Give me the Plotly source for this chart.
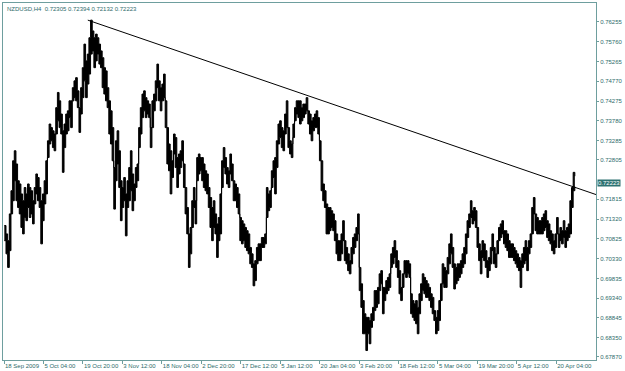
import plotly.graph_objects as go

SYMBOL = "NZDUSD,H4"
LAST_OHLC = [0.72305, 0.72394, 0.72132, 0.72223]
BAR_STEP = 3  # H4 bars between samples

high = [
    0.7116, 0.7095, 0.7078, 0.7145, 0.7203, 0.7278, 0.7303, 0.7270, 0.7228, 0.7220,
    0.7195, 0.7178, 0.7211, 0.7195, 0.7220, 0.7211, 0.7203, 0.7178, 0.7211, 0.7245,
    0.7236, 0.7211, 0.7178, 0.7195, 0.7228, 0.7278, 0.7328, 0.7370, 0.7361, 0.7353,
    0.7345, 0.7411, 0.7449, 0.7428, 0.7395, 0.7353, 0.7370, 0.7395, 0.7403, 0.7428,
    0.7428, 0.7461, 0.7478, 0.7486, 0.7453, 0.7411, 0.7461, 0.7511, 0.7570, 0.7528,
    0.7545, 0.7586, 0.7630, 0.7603, 0.7586, 0.7595, 0.7586, 0.7570, 0.7553, 0.7536,
    0.7511, 0.7503, 0.7461, 0.7428, 0.7403, 0.7361, 0.7261, 0.7328, 0.7353, 0.7303,
    0.7228, 0.7211, 0.7236, 0.7195, 0.7228, 0.7261, 0.7303, 0.7245, 0.7220, 0.7261,
    0.7270, 0.7361, 0.7411, 0.7445, 0.7453, 0.7436, 0.7428, 0.7420,
    # Nov - Jan
    0.7361, 0.7428, 0.7445, 0.7478, 0.7520, 0.7478, 0.7461, 0.7470, 0.7495, 0.7428,
    0.7361, 0.7320, 0.7303, 0.7278, 0.7345, 0.7336, 0.7286, 0.7295, 0.7303, 0.7328,
    0.7270, 0.7211, 0.7161, 0.7095, 0.7111, 0.7178, 0.7211, 0.7178, 0.7286, 0.7295,
    0.7286, 0.7286, 0.7270, 0.7253, 0.7245, 0.7211, 0.7186, 0.7161, 0.7178, 0.7145,
    0.7120, 0.7136, 0.7195, 0.7278, 0.7311, 0.7286, 0.7261, 0.7253, 0.7295, 0.7270,
    0.7228, 0.7220, 0.7211, 0.7195, 0.7136, 0.7128, 0.7120, 0.7111, 0.7103, 0.7095,
    0.7061, 0.7045, 0.7020, 0.7028, 0.7061, 0.7070, 0.7070, 0.7086, 0.7086, 0.7095,
    0.7211, 0.7195, 0.7203, 0.7253, 0.7278, 0.7286, 0.7328, 0.7370, 0.7378, 0.7361,
    0.7353, 0.7395, 0.7428, 0.7361, 0.7328, 0.7320, 0.7370, 0.7411, 0.7428, 0.7428,
    # Jan - Mar
    0.7428, 0.7411, 0.7420, 0.7420, 0.7436, 0.7403, 0.7395, 0.7378, 0.7386, 0.7395,
    0.7403, 0.7386, 0.7328, 0.7278, 0.7220, 0.7203, 0.7170, 0.7161, 0.7161, 0.7153,
    0.7145, 0.7128, 0.7095, 0.7078, 0.7078, 0.7095, 0.7128, 0.7078, 0.7061, 0.7045,
    0.7028, 0.7061, 0.7086, 0.7095, 0.7111, 0.7145, 0.7011, 0.6970, 0.6928, 0.6895,
    0.6886, 0.6886, 0.6878, 0.6895, 0.6911, 0.6953, 0.6953, 0.6961, 0.6995, 0.7003,
    0.6961, 0.6961, 0.6978, 0.6986, 0.6995, 0.7045, 0.7061, 0.7078, 0.7053, 0.7028,
    0.7003, 0.6961, 0.6995, 0.7028, 0.7028, 0.7028, 0.7020, 0.6945, 0.6928, 0.6920,
    0.6928, 0.6911, 0.6945, 0.6970, 0.6995, 0.6986, 0.6978, 0.6970, 0.6961, 0.6945,
    0.6936, 0.6903, 0.6886, 0.6903, 0.6928, 0.6970, 0.7020, 0.7011, 0.7003, 0.7036,
    # Mar - Apr
    0.7070, 0.7095, 0.7061, 0.7020, 0.7011, 0.7020, 0.7020, 0.7028, 0.7045, 0.7061,
    0.7095, 0.7128, 0.7145, 0.7178, 0.7153, 0.7161, 0.7153, 0.7111, 0.7070, 0.7053,
    0.7078, 0.7070, 0.7053, 0.7028, 0.7036, 0.7061, 0.7095, 0.7061, 0.7045, 0.7078,
    0.7111, 0.7120, 0.7128, 0.7103, 0.7103, 0.7095, 0.7078, 0.7070, 0.7070, 0.7061,
    0.7053, 0.7045, 0.7036, 0.7028, 0.7045, 0.7061, 0.7078, 0.7061, 0.7078, 0.7095,
    0.7161, 0.7186, 0.7145, 0.7136, 0.7128, 0.7128, 0.7136, 0.7145, 0.7153, 0.7128,
    0.7120, 0.7103, 0.7095, 0.7078, 0.7095, 0.7136, 0.7095, 0.7111, 0.7103, 0.7128,
    0.7103, 0.7111, 0.7120, 0.7178, 0.7211, 0.7249, 0.72394,
]

low = [
    0.7078, 0.7045, 0.7011, 0.7053, 0.7145, 0.7178, 0.7228, 0.7178, 0.7161, 0.7145,
    0.7111, 0.7095, 0.7136, 0.7128, 0.7161, 0.7136, 0.7145, 0.7120, 0.7170, 0.7195,
    0.7178, 0.7161, 0.7070, 0.7128, 0.7170, 0.7195, 0.7286, 0.7320, 0.7328, 0.7311,
    0.7303, 0.7345, 0.7378, 0.7361, 0.7345, 0.7249, 0.7311, 0.7345, 0.7353, 0.7386,
    0.7361, 0.7428, 0.7436, 0.7428, 0.7411, 0.7349, 0.7395, 0.7436, 0.7478, 0.7436,
    0.7470, 0.7495, 0.7545, 0.7553, 0.7511, 0.7528, 0.7545, 0.7520, 0.7511, 0.7461,
    0.7445, 0.7428, 0.7411, 0.7345, 0.7320, 0.7278, 0.7157, 0.7228, 0.7270, 0.7211,
    0.7128, 0.7161, 0.7178, 0.7090, 0.7161, 0.7178, 0.7203, 0.7153, 0.7178, 0.7211,
    0.7228, 0.7311, 0.7345, 0.7386, 0.7403, 0.7386, 0.7395, 0.7386,
    # Nov - Jan
    0.7311, 0.7361, 0.7403, 0.7428, 0.7461, 0.7428, 0.7403, 0.7428, 0.7436, 0.7361,
    0.7270, 0.7253, 0.7195, 0.7236, 0.7295, 0.7261, 0.7211, 0.7245, 0.7261, 0.7278,
    0.7211, 0.7145, 0.7095, 0.7011, 0.7045, 0.7111, 0.7161, 0.7120, 0.7228, 0.7245,
    0.7253, 0.7228, 0.7211, 0.7203, 0.7195, 0.7161, 0.7111, 0.7078, 0.7111, 0.7095,
    0.7036, 0.7078, 0.7095, 0.7211, 0.7261, 0.7245, 0.7220, 0.7211, 0.7245, 0.7228,
    0.7178, 0.7178, 0.7161, 0.7145, 0.7078, 0.7070, 0.7078, 0.7061, 0.7053, 0.7045,
    0.7020, 0.7011, 0.6965, 0.6978, 0.7020, 0.7028, 0.7028, 0.7061, 0.7061, 0.7070,
    0.7136, 0.7153, 0.7161, 0.7211, 0.7236, 0.7195, 0.7261, 0.7320, 0.7336, 0.7311,
    0.7303, 0.7345, 0.7361, 0.7311, 0.7295, 0.7286, 0.7336, 0.7378, 0.7395, 0.7386,
    # Jan - Mar
    0.7370, 0.7378, 0.7386, 0.7395, 0.7403, 0.7370, 0.7345, 0.7328, 0.7353, 0.7361,
    0.7361, 0.7345, 0.7278, 0.7203, 0.7178, 0.7161, 0.7095, 0.7095, 0.7103, 0.7111,
    0.7103, 0.7078, 0.7045, 0.7028, 0.7028, 0.7045, 0.7078, 0.7028, 0.7020, 0.7003,
    0.6995, 0.7020, 0.7045, 0.7061, 0.7078, 0.7095, 0.6953, 0.6911, 0.6845, 0.6845,
    0.6803, 0.6845, 0.6820, 0.6861, 0.6878, 0.6903, 0.6911, 0.6920, 0.6953, 0.6970,
    0.6895, 0.6928, 0.6945, 0.6953, 0.6961, 0.7011, 0.7020, 0.7036, 0.7011, 0.6986,
    0.6945, 0.6928, 0.6961, 0.6995, 0.6986, 0.6995, 0.6986, 0.6895, 0.6886, 0.6878,
    0.6870, 0.6845, 0.6895, 0.6928, 0.6953, 0.6945, 0.6936, 0.6936, 0.6928, 0.6911,
    0.6895, 0.6878, 0.6845, 0.6853, 0.6878, 0.6928, 0.6970, 0.6961, 0.6961, 0.6995,
    # Mar - Apr
    0.7020, 0.7045, 0.7011, 0.6957, 0.6970, 0.6978, 0.6986, 0.6995, 0.7011, 0.7020,
    0.7045, 0.7086, 0.7111, 0.7136, 0.7120, 0.7128, 0.7111, 0.7061, 0.7028, 0.6995,
    0.7036, 0.7028, 0.7011, 0.6986, 0.7003, 0.7020, 0.7053, 0.7020, 0.7011, 0.7045,
    0.7078, 0.7086, 0.7095, 0.7070, 0.7061, 0.7053, 0.7036, 0.7036, 0.7036, 0.7028,
    0.7020, 0.7011, 0.7003, 0.6961, 0.7011, 0.7020, 0.7028, 0.7003, 0.7045, 0.7061,
    0.7095, 0.7145, 0.7103, 0.7095, 0.7095, 0.7095, 0.7095, 0.7103, 0.7111, 0.7086,
    0.7078, 0.7070, 0.7053, 0.7045, 0.7061, 0.7095, 0.7061, 0.7078, 0.7070, 0.7086,
    0.7061, 0.7078, 0.7086, 0.7095, 0.7161, 0.7203, 0.72132,
]

# date labels on the time axis (every ~71 H4 bars)
date_labels = ["18 Sep 2009", "5 Oct 04:00", "19 Oct 20:00", "3 Nov 12:00", "18 Nov 04:00",
               "2 Dec 20:00", "17 Dec 12:00", "5 Jan 12:00", "20 Jan 04:00", "3 Feb 20:00",
               "18 Feb 12:00", "5 Mar 04:00", "19 Mar 20:00", "5 Apr 12:00", "20 Apr 04:00"]
price_ticks = [0.76255, 0.75760, 0.75265, 0.74770, 0.74275, 0.73780, 0.73285, 0.72805,
               0.71815, 0.71320, 0.70825, 0.70330, 0.69835, 0.69340, 0.68845, 0.68350, 0.67870]
price_tick_text = ["%.5f" % v for v in price_ticks]

# trend line anchors (bar, price)
trend_bar = [151, 1029]
trend_price = [0.7630, 0.7213]

# ---------------- layout constants ----------------
X_RANGE = [-2.4, 1070.3]
Y_RANGE = [0.67793, 0.76729]
LABEL_FIRST = -0.6
LABEL_STEP = 71.36
TEXT_C = "#2E6B6B"
LINE_C = "#6E9E9E"
FONT = "Liberation Sans"

assert len(high) == len(low)
bars = [i * BAR_STEP for i in range(len(high))]

fig = go.Figure()
# price range band: low line, then high line filled down to it (stepped like bars)
fig.add_trace(go.Scatter(x=bars, y=low, mode="lines",
                         line=dict(color="black", width=1, simplify=False, shape="hv"),
                         hoverinfo="skip", showlegend=False))
fig.add_trace(go.Scatter(x=bars, y=high, mode="lines", fill="tonexty", fillcolor="black",
                         line=dict(color="black", width=1, simplify=False, shape="hv"),
                         hoverinfo="skip", showlegend=False))

# trend ray extended to the right edge
slope = (trend_price[1] - trend_price[0]) / (trend_bar[1] - trend_bar[0])
x_end = X_RANGE[1]
y_end = trend_price[0] + slope * (x_end - trend_bar[0])
fig.add_trace(go.Scatter(x=[trend_bar[0], x_end], y=[trend_price[0], y_end], mode="lines",
                         line=dict(color="black", width=1), hoverinfo="skip",
                         showlegend=False, cliponaxis=False))

tickvals = [LABEL_FIRST + k * LABEL_STEP for k in range(len(date_labels))]

fig.update_layout(
    width=625, height=371,
    margin=dict(l=2, r=27, t=2, b=11),
    paper_bgcolor="white", plot_bgcolor="white",
    font=dict(family=FONT, size=6, color=TEXT_C),
    showlegend=False,
    xaxis=dict(range=X_RANGE, showgrid=False, zeroline=False,
               showline=True, mirror=True, linecolor=LINE_C, linewidth=1,
               tickmode="array", tickvals=tickvals, ticktext=date_labels,
               ticks="outside", ticklen=3, tickcolor=LINE_C, tickangle=0,
               ticklabelposition="outside right",
               tickfont=dict(family=FONT, size=6, color=TEXT_C)),
    yaxis=dict(range=Y_RANGE, side="right", showgrid=False, zeroline=False,
               showline=True, mirror=True, linecolor=LINE_C, linewidth=1,
               tickmode="array", tickvals=price_ticks, ticktext=price_tick_text,
               ticks="outside", ticklen=2, tickcolor=LINE_C,
               tickfont=dict(family=FONT, size=6, color=TEXT_C)),
)

fig.add_annotation(xref="paper", yref="paper", x=0, y=1, xanchor="left", yanchor="top",
                   xshift=2, yshift=-1, showarrow=False,
                   text=SYMBOL + "\u00a0\u00a0" + " ".join("%.5f" % v for v in LAST_OHLC),
                   font=dict(family=FONT, size=6, color=TEXT_C))

fig.add_annotation(xref="paper", yref="y", x=1, y=LAST_OHLC[3], xanchor="left", yanchor="middle",
                   xshift=1, showarrow=False, text="%.5f" % LAST_OHLC[3],
                   bgcolor="#2E7272", borderpad=0,
                   font=dict(family=FONT, size=6, color="white"))

fig.write_html("out.html")
